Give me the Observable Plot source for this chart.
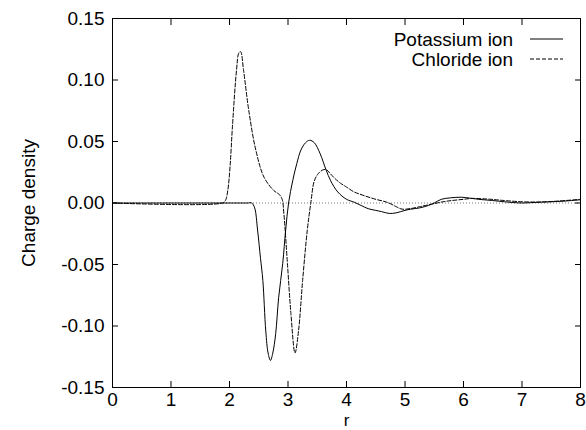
<!DOCTYPE html>
<html>
<head>
<meta charset="utf-8">
<script src="https://cdn.jsdelivr.net/npm/d3@7"></script>
<script src="https://cdn.jsdelivr.net/npm/@observablehq/plot@0.6"></script>
<style>
  body { margin: 0; background: white; }
  #wrap { position: relative; width: 586px; height: 430px; font-family: "Liberation Sans", Arial, Helvetica, sans-serif; }
  #legend { position: absolute; left: 0; top: 0; width: 586px; height: 430px; pointer-events: none; }
</style>
</head>
<body>
<div id="wrap"></div>
<script>
const xTicks = [0, 1, 2, 3, 4, 5, 6, 7, 8];
const yTicks = [-0.15, -0.10, -0.05, 0.00, 0.05, 0.10, 0.15];
const seriesNames = ["Potassium ion", "Chloride ion"];

const potassiumR = [0, 2.30, 2.38, 2.43, 2.48, 2.53, 2.57, 2.62, 2.66, 2.70, 2.74, 2.79, 2.84, 2.91, 2.96, 3.01, 3.08, 3.15, 3.22, 3.30, 3.37, 3.45, 3.55, 3.65, 3.73, 3.85, 4.00, 4.13, 4.25, 4.37, 4.50, 4.60, 4.73, 4.85, 5.00, 5.10, 5.25, 5.40, 5.50, 5.62, 5.78, 5.96, 6.10, 6.30, 6.50, 6.70, 6.99, 7.15, 7.33, 7.50, 7.70, 7.85, 8.00];
const potassiumQ = [0, 0, 0, -0.004, -0.022, -0.045, -0.063, -0.104, -0.122, -0.128, -0.122, -0.106, -0.077, -0.049, -0.022, 0.000, 0.018, 0.032, 0.043, 0.049, 0.051, 0.049, 0.040, 0.027, 0.018, 0.009, 0.003, 0.0007, -0.002, -0.0046, -0.006, -0.007, -0.0085, -0.008, -0.006, -0.005, -0.004, -0.002, 0.000, 0.003, 0.0042, 0.0047, 0.004, 0.0028, 0.002, 0.001, 0.000, 0.0003, 0.0007, 0.001, 0.0015, 0.002, 0.0026];

const chlorideR = [0, 1.88, 1.93, 1.97, 2.01, 2.05, 2.12, 2.16, 2.19, 2.24, 2.33, 2.45, 2.59, 2.76, 2.85, 2.90, 2.93, 2.99, 3.05, 3.12, 3.18, 3.25, 3.33, 3.39, 3.45, 3.52, 3.60, 3.66, 3.72, 3.80, 3.90, 4.00, 4.13, 4.30, 4.50, 4.70, 4.85, 4.95, 5.10, 5.25, 5.45, 5.65, 5.80, 6.00, 6.13, 6.30, 6.47, 6.70, 7.00, 7.30, 7.60, 8.00];
const chlorideQ = [0, 0, 0.002, 0.010, 0.030, 0.062, 0.108, 0.122, 0.123, 0.108, 0.075, 0.043, 0.021, 0.010, 0.007, 0.003, -0.009, -0.049, -0.090, -0.122, -0.104, -0.063, -0.022, 0.000, 0.018, 0.024, 0.027, 0.027, 0.024, 0.020, 0.016, 0.013, 0.009, 0.006, 0.003, 0.0005, -0.003, -0.005, -0.0045, -0.003, -0.001, 0.001, 0.002, 0.003, 0.0037, 0.0035, 0.003, 0.002, 0.001, 0.0008, 0.0015, 0.003];

const potassium = potassiumR.map((r, i) => ({r, q: potassiumQ[i]}));
const chloride = chlorideR.map((r, i) => ({r, q: chlorideQ[i]}));

const font = '"Liberation Sans", Arial, Helvetica, sans-serif';
const fmtY = d => d.toFixed(2);

const chart = Plot.plot({
  width: 586,
  height: 430,
  marginLeft: 112,
  marginRight: 6,
  marginTop: 18,
  marginBottom: 43,
  style: {fontFamily: font, fontSize: "19px", color: "black", background: "white"},
  x: {domain: [0, 8]},
  y: {domain: [-0.15, 0.15]},
  marks: [
    Plot.ruleY([0], {stroke: "#777", strokeWidth: 1, strokeDasharray: "1,2"}),
    Plot.line(potassium, {x: "r", y: "q", stroke: "black", strokeWidth: 1, curve: "catmull-rom"}),
    Plot.line(chloride, {x: "r", y: "q", stroke: "black", strokeWidth: 1, strokeDasharray: "4,2", curve: "catmull-rom"}),
    Plot.frame({stroke: "black", strokeWidth: 1}),
    Plot.axisX({ticks: xTicks, tickSize: -6, tickPadding: 11, tickFormat: d => String(d), label: null, fontSize: 19}),
    Plot.axisX({anchor: "top", ticks: xTicks, tickSize: -6, tickFormat: () => "", label: null}),
    Plot.axisY({ticks: yTicks, tickSize: -6, tickPadding: 14, tickFormat: fmtY, label: null, fontSize: 19}),
    Plot.axisY({anchor: "right", ticks: yTicks, tickSize: -6, tickFormat: () => "", label: null}),
    Plot.text(["Charge density"], {frameAnchor: "left", dx: -84, rotate: -90, textAnchor: "middle", lineAnchor: "middle", fontSize: 19, fill: "black"}),
    Plot.text(["r"], {frameAnchor: "bottom", dy: 33, lineAnchor: "middle", fontSize: 17, fill: "black"})
  ]
});

const wrap = document.getElementById("wrap");
wrap.appendChild(chart);

// Legend overlay
const ns = "http://www.w3.org/2000/svg";
const leg = document.createElementNS(ns, "svg");
leg.setAttribute("id", "legend");
leg.setAttribute("width", 586);
leg.setAttribute("height", 430);
const dashes = [null, "4,2"];
seriesNames.forEach((name, i) => {
  const y = 39 + i * 20;
  const t = document.createElementNS(ns, "text");
  t.setAttribute("x", 513);
  t.setAttribute("y", y);
  t.setAttribute("dy", "0.35em");
  t.setAttribute("text-anchor", "end");
  t.setAttribute("font-family", font);
  t.setAttribute("font-size", 19);
  t.textContent = name;
  leg.appendChild(t);
  const l = document.createElementNS(ns, "line");
  l.setAttribute("x1", 530); l.setAttribute("x2", 563);
  l.setAttribute("y1", y); l.setAttribute("y2", y);
  l.setAttribute("stroke", "black");
  l.setAttribute("stroke-width", 1);
  if (dashes[i]) l.setAttribute("stroke-dasharray", dashes[i]);
  leg.appendChild(l);
});
wrap.appendChild(leg);
</script>
</body>
</html>
